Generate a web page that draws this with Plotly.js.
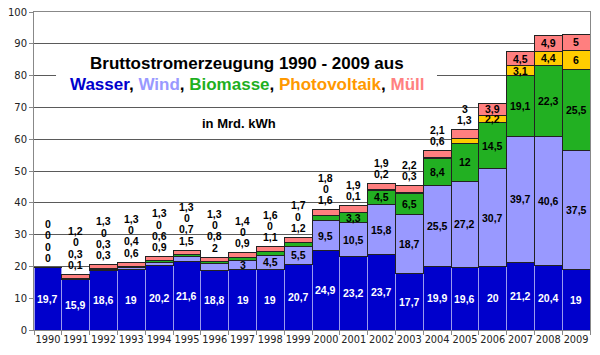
<!DOCTYPE html>
<html>
<head>
<meta charset="utf-8">
<script src="https://cdn.plot.ly/plotly-3.0.1.min.js"></script>
<style>html,body{margin:0;padding:0;background:#fff;}#chart{width:600px;height:355px;}</style>
</head>
<body>
<div id="chart"></div>
<script>
const years = ['1990','1991','1992','1993','1994','1995','1996','1997','1998','1999','2000','2001','2002','2003','2004','2005','2006','2007','2008','2009'];
const wasser = [19.7,15.9,18.6,19,20.2,21.6,18.8,19,19,20.7,24.9,23.2,23.7,17.7,19.9,19.6,20,21.2,20.4,19];
const wind = [0,0.1,0.3,0.6,0.9,1.5,2,3,4.5,5.5,9.5,10.5,15.8,18.7,25.5,27.2,30.7,39.7,40.6,37.5];
const biomasse = [0,0.3,0.3,0.4,0.6,0.7,0.8,0.9,1.1,1.2,1.6,3.3,4.5,6.5,8.4,12,14.5,19.1,22.3,25.5];
const photovoltaik = [0,0,0,0,0,0,0,0,0,0,0,0.1,0.2,0.3,0.6,1.3,2.2,3.1,4.4,6];
const muell = [0,1.2,1.3,1.3,1.3,1.3,1.3,1.4,1.6,1.7,1.8,1.9,1.9,2.2,2.1,3,3.9,4.5,4.9,5];
const seriesNames = ['Wasser','Wind','Biomasse','Photovoltaik','Müll'];

const series = [wasser, wind, biomasse, photovoltaik, muell];
const colors = ['#0000CC','#9999FF','#22B022','#FFCC00','#FF7F7F'];
const lineColors = ['#9a9aee','#222222','#222222','#222222','#222222'];

const traces = series.map((s, k) => ({
  type: 'bar', x: years, y: s, name: seriesNames[k],
  marker: {color: colors[k], line: {color: lineColors[k], width: 1}},
  hoverinfo: 'skip'
}));

const fmt = v => String(v).replace('.', ',');
const annotations = [];
const lblFont = {family: 'Liberation Sans, Arial, sans-serif', size: 10.5, weight: 'bold', color: '#000'};

years.forEach((yr, i) => {
  const vals = series.map(s => s[i]);
  const total = vals.reduce((a, b) => a + b, 0);
  annotations.push({x: i, y: vals[0] / 2, xref: 'x', yref: 'y', text: fmt(vals[0]), showarrow: false,
    font: Object.assign({}, lblFont, {color: '#ffffff'})});
  const inside = new Array(5).fill(false);
  for (let k = 4; k >= 1; k--) {
    const v = vals[k];
    const hasAbove = k < 4;
    let allAboveInside = true;
    for (let j = k + 1; j <= 4; j++) if (!inside[j]) allAboveInside = false;
    inside[k] = v > 3 || (hasAbove && (v >= 3 || (v >= 2 && allAboveInside)));
  }
  let base = vals[0];
  let stackIdx = 0;
  for (let k = 1; k <= 4; k++) {
    const v = vals[k];
    if (inside[k]) {
      annotations.push({x: i, y: base + v / 2, xref: 'x', yref: 'y', text: fmt(v), showarrow: false, font: lblFont});
    } else {
      annotations.push({x: i, y: total, xref: 'x', yref: 'y', text: fmt(v), showarrow: false,
        yanchor: 'middle', yshift: 9.5 + stackIdx * 11.3, font: lblFont});
      stackIdx++;
    }
    base += v;
  }
});

const tFont = {family: 'Liberation Sans, Arial, sans-serif', size: 17, weight: 'bold', color: '#000'};
annotations.push({xref: 'paper', yref: 'paper', x: 0.383, y: 0.838, xanchor: 'center', yanchor: 'middle', showarrow: false,
  text: 'Bruttostromerzeugung 1990 - 2009 aus', font: tFont});
annotations.push({xref: 'paper', yref: 'paper', x: 0.383, y: 0.772, xanchor: 'center', yanchor: 'middle', showarrow: false,
  text: '<span style="color:#0000CC">Wasser</span>, <span style="color:#9999FF">Wind</span>, <span style="color:#1FB01F">Biomasse</span>, <span style="color:#FF9900">Photovoltaik</span>, <span style="color:#FF8080">Müll</span>',
  font: tFont});
annotations.push({xref: 'paper', yref: 'paper', x: 0.368, y: 0.648, xanchor: 'center', yanchor: 'middle', showarrow: false,
  text: 'in Mrd. kWh', font: {family: 'Liberation Sans, Arial, sans-serif', size: 13, weight: 'bold', color: '#000'}});

const layout = {
  width: 600, height: 355,
  margin: {l: 34, r: 10, t: 12, b: 25, pad: 0},
  paper_bgcolor: '#ffffff', plot_bgcolor: '#ffffff',
  barmode: 'stack', bargap: 0,
  showlegend: false,
  xaxis: {type: 'category', range: [-0.5, 19.5], autorange: false, tickson: 'boundaries', ticks: 'outside', ticklen: 4, tickcolor: '#888',
    tickangle: 0, automargin: false,
    showline: true, linecolor: '#888', linewidth: 1, mirror: true, showgrid: false,
    tickfont: {family: 'DejaVu Sans, Verdana, sans-serif', size: 9.8, color: '#222'}},
  yaxis: {range: [0, 100], autorange: false, dtick: 10, tick0: 0, ticks: 'outside', ticklen: 4, tickcolor: '#888',
    showline: true, linecolor: '#888', linewidth: 1, mirror: true, zeroline: false, automargin: false,
    showgrid: true, gridcolor: '#5a5a5a', gridwidth: 1,
    tickfont: {family: 'DejaVu Sans, Verdana, sans-serif', size: 10, color: '#222'}},
  shapes: [{type: 'rect', xref: 'paper', yref: 'paper', x0: 0.0396, x1: 0.7248, y0: 0.711, y1: 0.89,
    fillcolor: '#ffffff', line: {width: 0}, layer: 'above'}],
  annotations: annotations
};

Plotly.newPlot('chart', traces, layout, {staticPlot: true, displayModeBar: false});
</script>
</body>
</html>
